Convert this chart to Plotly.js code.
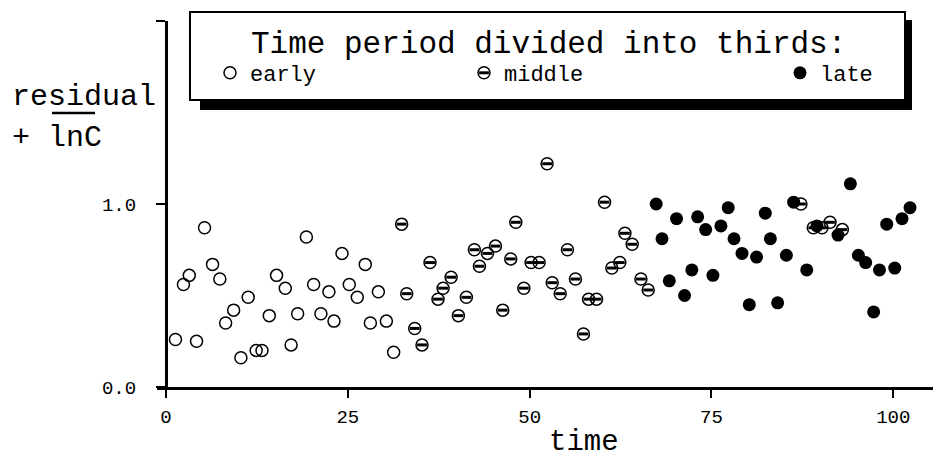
<!DOCTYPE html>
<html>
<head>
<meta charset="utf-8">
<script src="https://cdn.plot.ly/plotly-3.0.1.min.js"></script>
<style>html,body{margin:0;padding:0;background:#fff;}#chart{width:933px;height:460px;}</style>
</head>
<body>
<div id="chart"></div>
<script>
// ---- data ----
const earlyTime = [1.3,2.4,3.2,4.2,5.3,6.4,7.4,8.2,9.3,10.3,11.3,12.4,13.2,14.2,15.2,16.4,17.2,18.1,19.3,20.3,21.3,22.4,23.1,24.2,25.2,26.3,27.4,28.1,29.2,30.3,31.3];
const earlyValue = [0.26,0.56,0.61,0.25,0.87,0.67,0.59,0.35,0.42,0.16,0.49,0.20,0.20,0.39,0.61,0.54,0.23,0.40,0.82,0.56,0.40,0.52,0.36,0.73,0.56,0.49,0.67,0.35,0.52,0.36,0.19];

const middleTime = [32.4,33.1,34.2,35.2,36.3,37.4,38.1,39.2,40.2,41.3,42.4,43.1,44.2,45.3,46.3,47.4,48.1,49.2,50.2,51.3,52.4,53.1,54.2,55.2,56.3,57.4,58.1,59.2,60.3,61.3,62.4,63.1,64.1,65.3,66.3,87.3,89.0,90.2,91.3,93.0];
const middleValue = [0.89,0.51,0.32,0.23,0.68,0.48,0.54,0.60,0.39,0.49,0.75,0.66,0.73,0.77,0.42,0.70,0.90,0.54,0.68,0.68,1.22,0.57,0.51,0.75,0.59,0.29,0.48,0.48,1.01,0.65,0.68,0.84,0.78,0.59,0.53,1.00,0.87,0.87,0.90,0.86];

const lateTime = [67.4,68.2,69.2,70.2,71.3,72.3,73.1,74.2,75.2,76.3,77.3,78.1,79.2,80.2,81.2,82.4,83.1,84.1,85.3,86.3,88.1,89.5,92.4,94.1,95.2,96.2,97.3,98.1,99.1,100.2,101.2,102.3];
const lateValue = [1.00,0.81,0.58,0.92,0.50,0.64,0.93,0.86,0.61,0.88,0.98,0.81,0.73,0.45,0.71,0.95,0.81,0.46,0.72,1.01,0.64,0.88,0.83,1.11,0.72,0.68,0.41,0.64,0.89,0.65,0.92,0.98];

const seriesNames = ['early','middle','late'];
const xTickVals = [0,25,50,75,100];
const xTickText = ['0','25','50','75','100'];
const yTickVals = [0,1,2];
const yTickText = ['0.0','1.0',''];
const legendTitle = 'Time period divided into thirds:';
const xTitle = 'time';
const yTitleLine1 = 'residual';
const yTitleLine2 = '+ lnC';

// ---- drawing ----
const FONT = 'Liberation Mono, Courier New, monospace';
const L = 157, PW = 776, T = 21, PH = 366;
const px = X => (X - L) / PW;          // pixel -> paper x
const py = Y => (T + PH - Y) / PH;     // pixel -> paper y
const XR = [-9/7.273, 105.46];
const YR = [0, 2];
const YPOS = 9/776;
const LEG_FONT = 22;

function legendAt(markerX) {
  return {x:px(markerX - 20), xanchor:'left', y:py(52), yanchor:'top', xref:'paper', yref:'paper',
    bgcolor:'rgba(0,0,0,0)', borderwidth:0, orientation:'v',
    font:{family:FONT, size:LEG_FONT, color:'#000'}, itemclick:false, itemdoubleclick:false};
}

const circleOpen = {symbol:'circle-open', size:12, color:'#000', line:{width:1.5, color:'#000'}};
const traces = [
  {type:'scatter', mode:'markers', name:seriesNames[0], x:earlyTime, y:earlyValue, cliponaxis:false,
   legend:'legend', marker:circleOpen},
  {type:'scatter', mode:'markers', name:seriesNames[1], x:middleTime, y:middleValue, cliponaxis:false,
   legend:'legend2', marker:circleOpen},
  {type:'scatter', mode:'markers', name:' ', x:middleTime, y:middleValue, cliponaxis:false,
   legend:'legend4', marker:{symbol:'line-ew-open', size:7, color:'#000', line:{width:3, color:'#000'}}},
  {type:'scatter', mode:'markers', name:seriesNames[2], x:lateTime, y:lateValue, cliponaxis:false,
   legend:'legend3', marker:{symbol:'circle', size:13, color:'#000', line:{width:0}}}
];

const layout = {
  width:933, height:460,
  margin:{l:L, r:933-L-PW, t:T, b:460-T-PH, pad:0, autoexpand:false},
  paper_bgcolor:'#fff', plot_bgcolor:'#fff',
  font:{family:FONT, color:'#000'},
  showlegend:true,
  xaxis:{range:XR, anchor:'y', showline:true, linewidth:3, linecolor:'#000', mirror:false,
    ticks:'outside', ticklen:8, tickwidth:2, tickcolor:'#000',
    tickvals:xTickVals, ticktext:xTickText, tickfont:{family:FONT, size:19, color:'#000'},
    ticklabelstandoff:2, showgrid:false, zeroline:false, automargin:false},
  xaxis2:{range:XR, overlaying:'x', anchor:'y', showline:false, ticks:'inside', ticklen:9, tickwidth:2, tickcolor:'#000',
    tickvals:xTickVals, showticklabels:false, showgrid:false, zeroline:false},
  yaxis:{range:YR, anchor:'free', position:YPOS, showline:true, linewidth:3, linecolor:'#000',
    ticks:'outside', ticklen:9, tickwidth:2, tickcolor:'#000',
    tickvals:yTickVals, ticktext:yTickText, tickfont:{family:FONT, size:19, color:'#000'},
    ticklabelstandoff:16, showgrid:false, zeroline:false, automargin:false},
  yaxis2:{range:YR, overlaying:'y', anchor:'free', position:YPOS, showline:false,
    ticks:'inside', ticklen:9, tickwidth:2, tickcolor:'#000',
    tickvals:[1,2], showticklabels:false, showgrid:false, zeroline:false},
  legend:legendAt(230),
  legend2:legendAt(484),
  legend3:legendAt(800),
  legend4:legendAt(484),
  shapes:[
    {type:'rect', xref:'paper', yref:'paper', x0:px(200), x1:px(912), y0:py(110), y1:py(20),
     fillcolor:'#000', line:{width:0}, layer:'above'},
    {type:'rect', xref:'paper', yref:'paper', x0:px(190), x1:px(905), y0:py(100), y1:py(12),
     fillcolor:'#fff', line:{width:2, color:'#000'}, layer:'above'},
    {type:'line', xref:'paper', yref:'paper', x0:px(52), x1:px(95), y0:py(113), y1:py(113),
     line:{width:2.5, color:'#000'}}
  ],
  annotations:[
    {xref:'paper', yref:'paper', x:px(548), y:py(45), xanchor:'center', yanchor:'middle', showarrow:false,
     text:legendTitle, font:{family:FONT, size:31, color:'#000'}},
    {xref:'paper', yref:'paper', x:px(10), y:py(97), xanchor:'left', yanchor:'middle', showarrow:false,
     text:yTitleLine1, font:{family:FONT, size:30, color:'#000'}},
    {xref:'paper', yref:'paper', x:px(10), y:py(138), xanchor:'left', yanchor:'middle', showarrow:false,
     text:yTitleLine2, font:{family:FONT, size:30, color:'#000'}},
    {xref:'paper', yref:'paper', x:px(584), y:py(442), xanchor:'center', yanchor:'middle', showarrow:false,
     text:xTitle, font:{family:FONT, size:29, color:'#000'}}
  ]
};

Plotly.newPlot('chart', traces, layout, {staticPlot:true, displayModeBar:false});
</script>
</body>
</html>
